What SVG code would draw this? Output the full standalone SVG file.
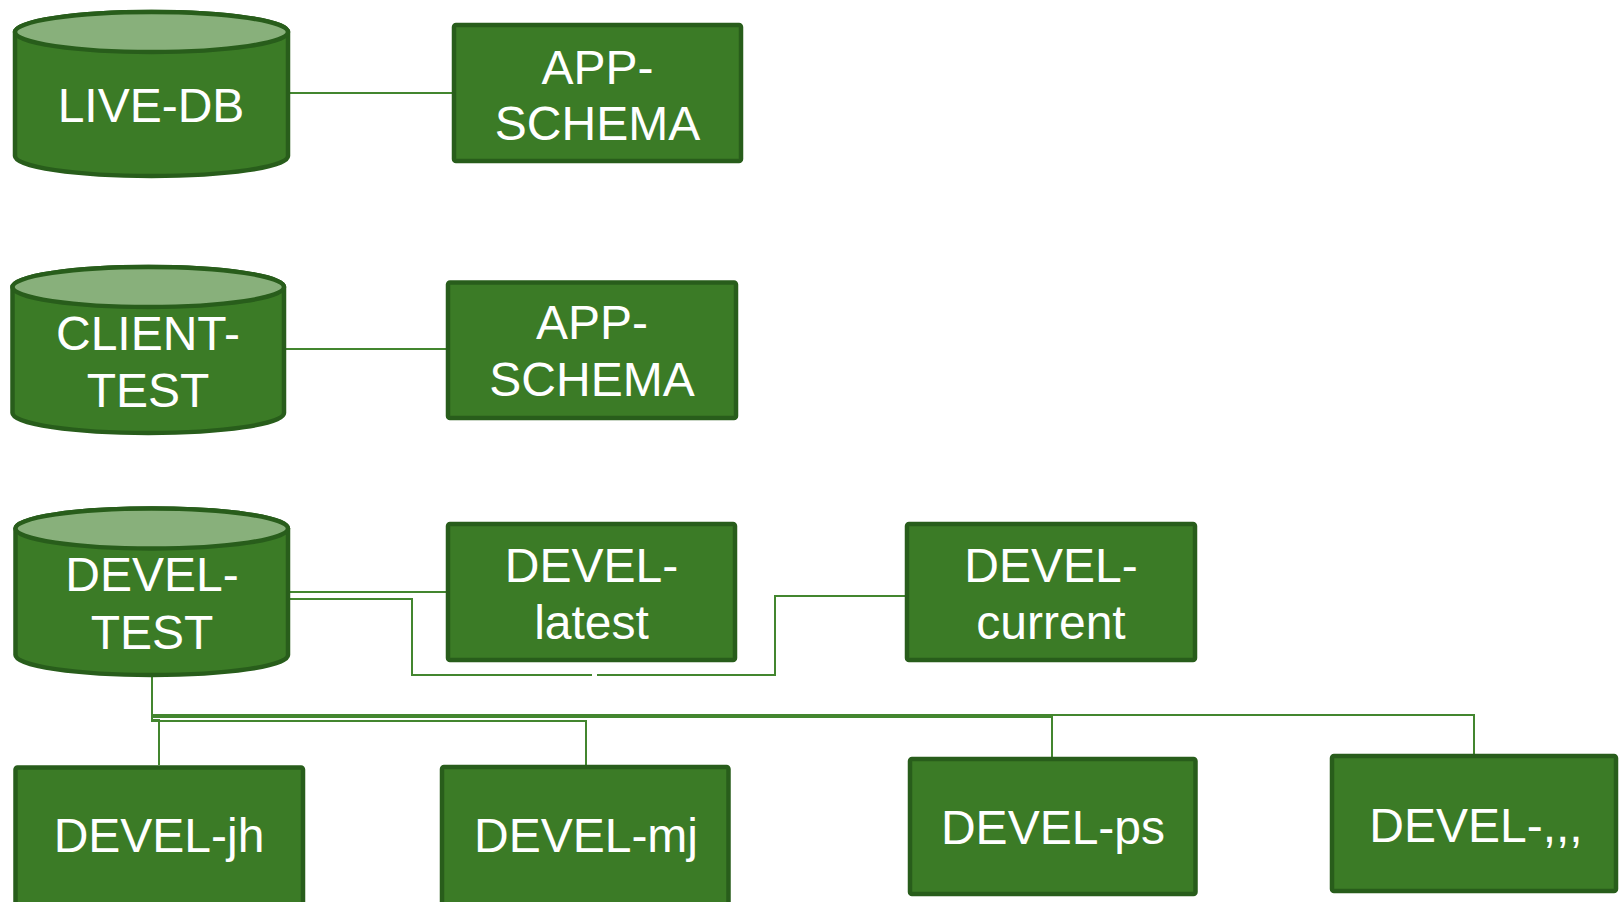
<svg xmlns="http://www.w3.org/2000/svg" width="1620" height="902" viewBox="0 0 1620 902">
  <style>
    .body { fill: #3b7b26; stroke: #285d1b; stroke-width: 4.5; }
    .top { fill: #88b07b; stroke: #285d1b; stroke-width: 4.5; }
    .box { fill: #3b7b26; stroke: #285d1b; stroke-width: 4.5; }
    .lbl { font-family: "Liberation Sans", Arial, sans-serif; font-size: 48px; fill: #ffffff; text-anchor: middle; }
    .wire { fill: none; stroke: #43862f; stroke-width: 2; }
  </style>
  <rect width="1620" height="902" fill="#ffffff"/>

  <!-- connectors -->
  <g id="connectors">
    <path class="wire" d="M289,93 H452"/>
    <path class="wire" d="M285,349 H446"/>
    <path class="wire" d="M289,592 H446"/>
    <path class="wire" d="M289,599 H412 V675 H592"/>
    <path class="wire" d="M597,675 H775 V596 H906"/>
    <path class="wire" d="M152,677 V715 H1474 V754"/>
    <path class="wire" d="M152,677 V717 H1052 V757"/>
    <path class="wire" d="M152,677 V721 H586 V765"/>
    <path class="wire" d="M152,677 V720 H159 V765"/>
  </g>

  <!-- databases -->
  <g id="live-db">
    <path class="body" d="M15,32 A136.5,20 0 0 1 288,32 V156 A136.5,20 0 0 1 15,156 Z"/>
    <ellipse class="top" cx="151.5" cy="32" rx="136.5" ry="20"/>
    <text class="lbl" x="151" y="122">LIVE-DB</text>
  </g>
  <g id="client-test">
    <path class="body" d="M12.5,287 A135.75,20 0 0 1 284,287 V413 A135.75,20 0 0 1 12.5,413 Z"/>
    <ellipse class="top" cx="148.25" cy="287" rx="135.75" ry="20"/>
    <text class="lbl" x="148" y="350">CLIENT-</text>
    <text class="lbl" x="148" y="407">TEST</text>
  </g>
  <g id="devel-test">
    <path class="body" d="M15.5,528.5 A136.25,20 0 0 1 288,528.5 V655 A136.25,20 0 0 1 15.5,655 Z"/>
    <ellipse class="top" cx="151.75" cy="528.5" rx="136.25" ry="20"/>
    <text class="lbl" x="152" y="591">DEVEL-</text>
    <text class="lbl" x="152" y="649">TEST</text>
  </g>

  <!-- schemas -->
  <g id="app-schema-live">
    <rect class="box" x="454" y="25" width="287" height="136" rx="2"/>
    <text class="lbl" x="597.5" y="84">APP-</text>
    <text class="lbl" x="597.5" y="140">SCHEMA</text>
  </g>
  <g id="app-schema-client">
    <rect class="box" x="448" y="282.5" width="288" height="135.5" rx="2"/>
    <text class="lbl" x="592" y="339">APP-</text>
    <text class="lbl" x="592" y="396">SCHEMA</text>
  </g>
  <g id="devel-latest">
    <rect class="box" x="448" y="524" width="287" height="136" rx="2"/>
    <text class="lbl" x="591.5" y="582">DEVEL-</text>
    <text class="lbl" x="591.5" y="639">latest</text>
  </g>
  <g id="devel-current">
    <rect class="box" x="907" y="524" width="288" height="136" rx="2"/>
    <text class="lbl" x="1051" y="582">DEVEL-</text>
    <text class="lbl" x="1051" y="639">current</text>
  </g>
  <g id="devel-jh">
    <rect class="box" x="15.5" y="767.5" width="287.5" height="160" rx="2"/>
    <text class="lbl" x="159" y="852">DEVEL-jh</text>
  </g>
  <g id="devel-mj">
    <rect class="box" x="442" y="767" width="286.5" height="160" rx="2"/>
    <text class="lbl" x="586" y="852">DEVEL-mj</text>
  </g>
  <g id="devel-ps">
    <rect class="box" x="910" y="759" width="285.5" height="135" rx="2"/>
    <text class="lbl" x="1053" y="844">DEVEL-ps</text>
  </g>
  <g id="devel-etc">
    <rect class="box" x="1332" y="756" width="284" height="135" rx="2"/>
    <text class="lbl" x="1476" y="842">DEVEL-,,,</text>
  </g>
</svg>
